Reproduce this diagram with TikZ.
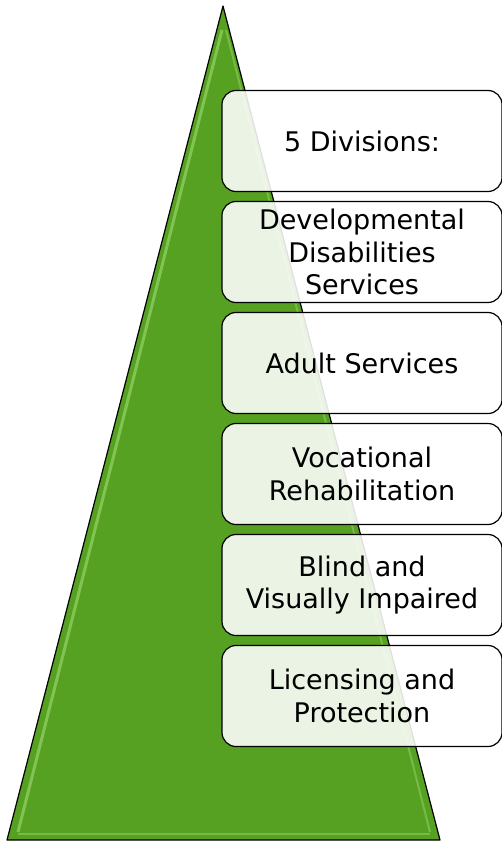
\documentclass[tikz,border=0pt]{standalone}
\usepackage{fontspec}
\setmainfont{DejaVu Sans}
\usetikzlibrary{positioning}
\definecolor{pyramidgreen}{RGB}{86,160,34}
\definecolor{pyramidlight}{RGB}{140,205,95}

\begin{document}
\begin{tikzpicture}[
    x=1pt, y=-1pt,
    node distance=10pt,
    division/.style = {
      shape=rectangle,
      rounded corners=14pt,
      draw=black,
      line width=1.2pt,
      fill=white,
      fill opacity=0.88,
      text opacity=1,
      minimum width=280pt,
      minimum height=101pt,
      inner sep=2pt,
      outer sep=0pt,
      align=center,
      font=\fontsize{27}{32.5}\selectfont
    }
  ]
    \useasboundingbox (0,0) rectangle (502,842);

    % the pyramid behind the boxes
    \coordinate (apex) at (223,6);
    \coordinate (baseR) at (440,840);
    \coordinate (baseL) at (7,840);
    \fill[pyramidgreen] (apex) -- (baseR) -- (baseL) -- cycle;
    \draw[pyramidlight, line width=3pt, opacity=0.8] (222,30) -- (18,832);
    \draw[pyramidlight, line width=2pt, opacity=0.6] (226,30) -- (430,832);
    \draw[pyramidlight, line width=2pt, opacity=0.6] (18,834) -- (430,834);
    \draw[black, line width=1.2pt, line join=round] (apex) -- (baseR) -- (baseL) -- cycle;

    % the five divisions stacked on the right
    \node[division] (head) at (362,141) {5 Divisions:};
    \node[division, below=of head] (dds) {Developmental\\Disabilities\\Services};
    \node[division, below=of dds] (adult) {Adult Services};
    \node[division, below=of adult] (voc) {Vocational\\Rehabilitation};
    \node[division, below=of voc] (blind) {Blind and\\Visually Impaired};
    \node[division, below=of blind] (lic) {Licensing and\\Protection};
  \end{tikzpicture}
\end{document}
